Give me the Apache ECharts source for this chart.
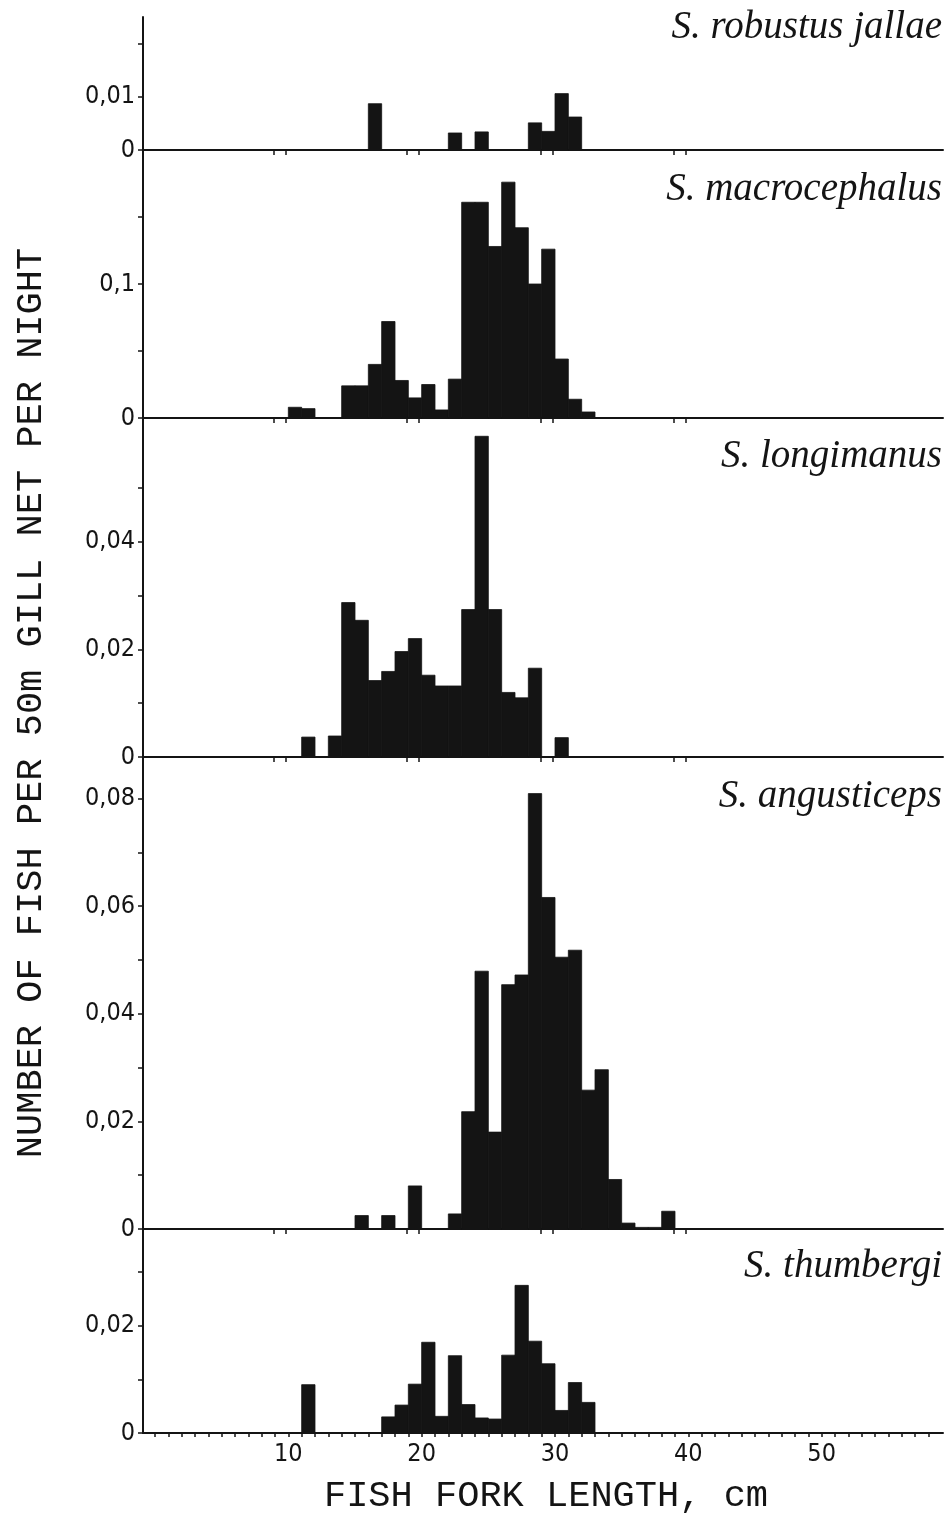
<!DOCTYPE html>
<html>
<head>
<meta charset="utf-8">
<script src="https://cdn.jsdelivr.net/npm/echarts@6/dist/echarts.min.js"></script>
<style>
html,body{margin:0;padding:0;background:#fff;}
#chart{width:949px;height:1513px;}
</style>
</head>
<body>
<div id="chart"></div>
<script>
// Length classes (cm): each bar covers [bin, bin+1)
const lengthBins = [10,11,12,13,14,15,16,17,18,19,20,21,22,23,24,25,26,27,28,29,30,31,32,33,34,35,36,37,38];

// Number of fish per 50 m gill net per night, per species
const robustusJallae = [0,0,0,0,0,0,0.0087,0,0,0,0,0,0.0032,0,0.0034,0,0,0,0.0051,0.0035,0.0106,0.0062,0,0,0,0,0,0,0];
const macrocephalus  = [0.008,0.007,0,0,0.024,0.024,0.040,0.072,0.028,0.015,0.025,0.006,0.029,0.161,0.161,0.128,0.176,0.142,0.100,0.126,0.044,0.014,0.0045,0,0,0,0,0,0];
const longimanus     = [0,0.0037,0,0.0039,0.0287,0.0254,0.0142,0.0159,0.0196,0.0220,0.0152,0.0132,0.0132,0.0274,0.0596,0.0274,0.0120,0.0110,0.0165,0,0.0036,0,0,0,0,0,0,0,0];
const angusticeps    = [0,0,0,0,0,0.0025,0,0.0025,0,0.0080,0,0,0.0028,0.0218,0.0479,0.0180,0.0454,0.0472,0.0809,0.0616,0.0505,0.0518,0.0258,0.0296,0.0092,0.0011,0.0003,0.0003,0.0033];
const thumbergi      = [0,0.0090,0,0,0,0,0,0.0030,0.0052,0.0091,0.0169,0.0031,0.0144,0.0053,0.0028,0.0026,0.0145,0.0275,0.0171,0.0129,0.0042,0.0094,0.0057,0,0,0,0,0,0];

const speciesNames = ['S. robustus jallae','S. macrocephalus','S. longimanus','S. angusticeps','S. thumbergi'];
const speciesValues = [robustusJallae, macrocephalus, longimanus, angusticeps, thumbergi];

// Axis ticks and labels
const xMinorTicks = Array.from({length:59},(_,i)=>i); // 0..58
const xTickLabels = [10,20,30,40,50];
const panelMarkTicks = [8.9,9.8,18.9,19.8,28.9,29.8,38.9,39.8];
const yTicks = [
  [0,0.01,0.02],
  [0,0.05,0.1,0.15],
  [0,0.01,0.02,0.03,0.04,0.05],
  [0,0.01,0.02,0.03,0.04,0.05,0.06,0.07,0.08],
  [0,0.01,0.02,0.03]
];
const yTickLabels = [
  [0,0.01],
  [0,0.1],
  [0,0.02,0.04],
  [0,0.02,0.04,0.06,0.08],
  [0,0.02]
];
const yMax = [0.025,0.2,0.063,0.0877,0.038];

// layout (pixels)
const panels = [
  {top:17,height:133},
  {top:150,height:268},
  {top:418,height:339},
  {top:757,height:472},
  {top:1229,height:204}
];
const titleY = [28,190,457,797,1267];

const ink = '#141414';
const numFont = "'Liberation Sans Narrow','Arial Narrow','DejaVu Sans Condensed',sans-serif";

const chart = echarts.init(document.getElementById('chart'));

const grid = [], xAxis = [], yAxis = [], series = [], graphic = [];
panels.forEach((p,i)=>{
  const last = i === panels.length-1;
  grid.push({left:143, width:800, top:p.top, height:p.height, containLabel:false});
  xAxis.push({
    type:'value', gridIndex:i, min:-0.9, max:59.1,
    axisLine:{show:true, onZero:false, lineStyle:{color:ink, width:2}},
    axisTick:{show:true, inside:false, length:last?4:5, lineStyle:{color:ink,width:1.5},
              customValues: last ? xMinorTicks : panelMarkTicks},
    axisLabel:{show:last, customValues:xTickLabels, margin:9, color:ink,
               fontFamily:numFont, fontSize:25, formatter:v=>String(v)},
    splitLine:{show:false}
  });
  yAxis.push({
    type:'value', gridIndex:i, min:0, max:yMax[i],
    axisLine:{show:true, onZero:false, lineStyle:{color:ink, width:2}},
    axisTick:{show:true, inside:false, length:5, lineStyle:{color:ink,width:1.5}, customValues:yTicks[i]},
    axisLabel:{show:true, customValues:yTickLabels[i], margin:8, color:ink,
               fontFamily:numFont, fontSize:25,
               formatter:v=> v===0 ? '0' : String(v).replace('.',',')},
    splitLine:{show:false}
  });
  const vals = speciesValues[i];
  series.push({
    type:'custom', name:speciesNames[i], xAxisIndex:i, yAxisIndex:i,
    data: lengthBins.map((b,k)=>[b, vals[k]]).filter(d=>d[1]>0),
    renderItem:(params, api)=>{
      const x0 = api.value(0), v = api.value(1);
      const p0 = api.coord([x0, 0]);
      const p1 = api.coord([x0+1, v]);
      return {type:'rect', shape:{x:p0[0], y:p1[1], width:p1[0]-p0[0], height:p0[1]-p1[1]},
              style:{fill:ink, stroke:ink, lineWidth:0.8}};
    },
    silent:true
  });
  graphic.push({
    type:'text', x:942, y:titleY[i],
    style:{text:speciesNames[i], x:0, y:0, textAlign:'right', textVerticalAlign:'middle',
           font:"italic 39px 'Liberation Serif','Times New Roman',serif", fill:ink}
  });
});

graphic.push({
  type:'text', x:31, y:703, rotation:Math.PI/2,
  style:{text:'NUMBER OF FISH PER 50m GILL NET PER NIGHT', textAlign:'center', textVerticalAlign:'middle',
         font:"37px 'Liberation Mono','DejaVu Sans Mono',monospace", fill:ink}
});
graphic.push({
  type:'text', x:546, y:1496,
  style:{text:'FISH FORK LENGTH, cm', textAlign:'center', textVerticalAlign:'middle',
         font:"37px 'Liberation Mono','DejaVu Sans Mono',monospace", fill:ink}
});

chart.setOption({
  animation:false,
  backgroundColor:'#fff',
  grid, xAxis, yAxis, series, graphic
});
</script>
</body>
</html>
